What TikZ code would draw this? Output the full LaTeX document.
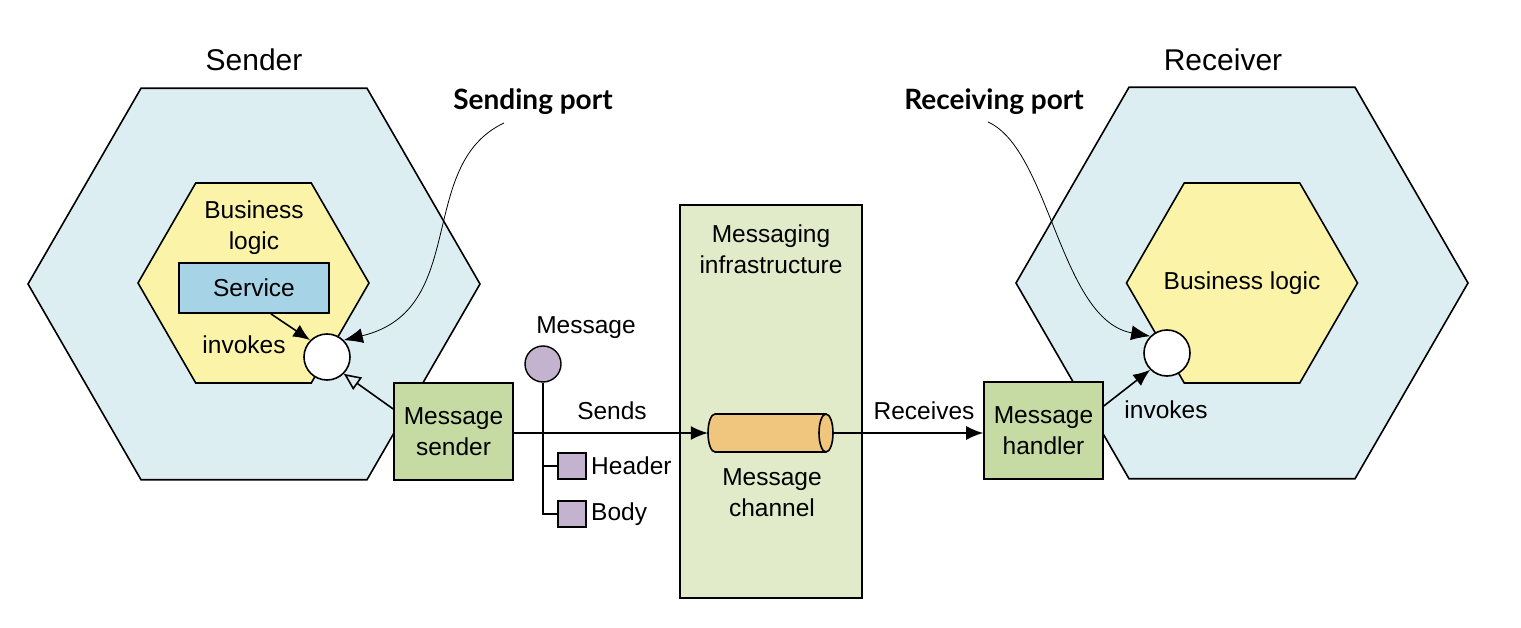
\documentclass[tikz,border=0pt]{standalone}
\usepackage{fontspec}
\setmainfont{Liberation Sans}
\newfontfamily\portfont{Lato}
\usetikzlibrary{shapes.geometric,arrows.meta}
\definecolor{hexblue}{HTML}{DDEEF3}
\definecolor{hexyellow}{HTML}{FBF4A8}
\definecolor{servblue}{HTML}{A6D3E6}
\definecolor{boxgreen}{HTML}{C6DBA3}
\definecolor{infragreen}{HTML}{E2EBC9}
\definecolor{chanorange}{HTML}{F0C67F}
\definecolor{msgpurple}{HTML}{C4B3CE}
\tikzset{
  txt/.style={font=\fontsize{24.5}{31}\selectfont, align=center, inner sep=0},
  ttl/.style={font=\fontsize{30}{34}\selectfont, inner sep=0},
  porttxt/.style={font=\portfont\bfseries\fontsize{28}{32}\selectfont, inner sep=0},
  outerhex/.style={regular polygon, regular polygon sides=6, minimum size=452, inner sep=0, draw, line width=1.6, fill=hexblue},
  innerhex/.style={regular polygon, regular polygon sides=6, minimum size=231, inner sep=0, draw, line width=1.6, fill=hexyellow},
  boxgr/.style={rectangle, draw, line width=1.6, fill=boxgreen, minimum width=119, minimum height=97, inner sep=0, align=center, font=\fontsize{24.5}{31}\selectfont},
  portc/.style={circle, draw, line width=1.6, fill=white, minimum size=46, inner sep=0},
  part/.style={rectangle, draw, line width=1.4, fill=msgpurple, minimum width=28, minimum height=26, inner sep=0},
  arr/.style={line width=1.6, -{Latex[length=17, width=14]}},
  thinarr/.style={line width=0.8, -{Latex[length=19, width=15]}},
}
\begin{document}
\begin{tikzpicture}[x=1pt,y=-1pt]
\useasboundingbox (0,0) rectangle (1521,628);

% Sender side
\node[outerhex] (sendhex) at (254,284) {};
\node[innerhex] (sendbl) at (253.5,283) {};
\node[txt] (sendbltxt) at (254,228) {Business\\logic};
\node[rectangle, draw, line width=1.6, fill=servblue, minimum width=150, minimum height=50, inner sep=0, font=\fontsize{24.5}{31}\selectfont] (service) at (254,288) {Service};
\node[portc] (sendport) at (327,357) {};
\node[txt] (inv1) at (244,345) {invokes};
\node[ttl] (sender) at (254,60) {Sender};

% Receiver side
\node[outerhex] (recvhex) at (1242,283) {};
\node[innerhex] (recvbl) at (1242,283) {};
\node[txt] (recvbltxt) at (1242,283) {Business logic};
\node[portc] (recvport) at (1167,353) {};
\node[ttl] (receiver) at (1223,60) {Receiver};

% Infrastructure
\node[rectangle, draw, line width=1.6, fill=infragreen, minimum width=182, minimum height=393, inner sep=0] (infra) at (771,401.5) {};
\node[txt] (infratxt) at (771,249) {Messaging\\infrastructure};
\node[rectangle, minimum width=125, minimum height=38, inner sep=0] (chan) at (770.5,433) {};
\draw[line width=1.6, fill=chanorange]
  (715,414) -- (826,414) arc[start angle=-90, end angle=90, x radius=7, y radius=19]
  -- (715,452) arc[start angle=90, end angle=270, x radius=7, y radius=19] -- cycle;
\draw[line width=1.6] (826,414) arc[start angle=-90, end angle=-270, x radius=7, y radius=19];
\node[txt] (chantxt) at (772,493) {Message\\channel};

% Sender / handler boxes
\node[boxgr] (msender) at (453.5,431.5) {Message\\sender};
\node[boxgr] (mhandler) at (1043.5,430.5) {Message\\handler};

% Message
\node[circle, draw, line width=1.4, fill=msgpurple, minimum size=36, inner sep=0] (msg) at (543,364) {};
\node[txt] (msgtxt) at (586,328) {Message};
\node[part] (header) at (572,466) {};
\node[part] (body) at (572,514) {};
\node[txt, anchor=west] (headertxt) at (591,466) {Header};
\node[txt, anchor=west] (bodytxt) at (591,514) {Body};
\coordinate (hj) at (543,466);
\draw[line width=1.4] (msg.south) -- (543,514) -- (body.west);
\draw[line width=1.4] (hj) -- (header.west);

% Connectors
\draw[arr] (service.south east) ++(-59,0) coordinate (svs) -- (sendport.north west);
\draw[line width=1.6, -{Triangle[open, length=17, width=15]}] (msender.west |- 0,409) coordinate (sw) -- (sendport.south east);
\draw[arr] (msender.east |- chan.west) -- (chan.west);
\node[txt] (sends) at (612,411) {Sends};
\draw[arr] (chan.east) -- (mhandler.west |- chan.east);
\node[txt] (receives) at (924,411) {Receives};
\draw[arr] (mhandler.east |- 0,406) -- (recvport.south west);
\node[txt] (inv2) at (1166,410) {invokes};

% Port labels
\node[porttxt] (sendlbl) at (533,102) {Sending port};
\node[porttxt] (recvlbl) at (994,102) {Receiving port};
\coordinate (s0) at (504,123);
\coordinate (r0) at (988,122);
\draw[thinarr] (s0) .. controls (415,165) and (470,310) .. (sendport.north east);
\draw[thinarr] (r0) .. controls (1050,150) and (1060,320) .. (recvport.north west);
\end{tikzpicture}
\end{document}
